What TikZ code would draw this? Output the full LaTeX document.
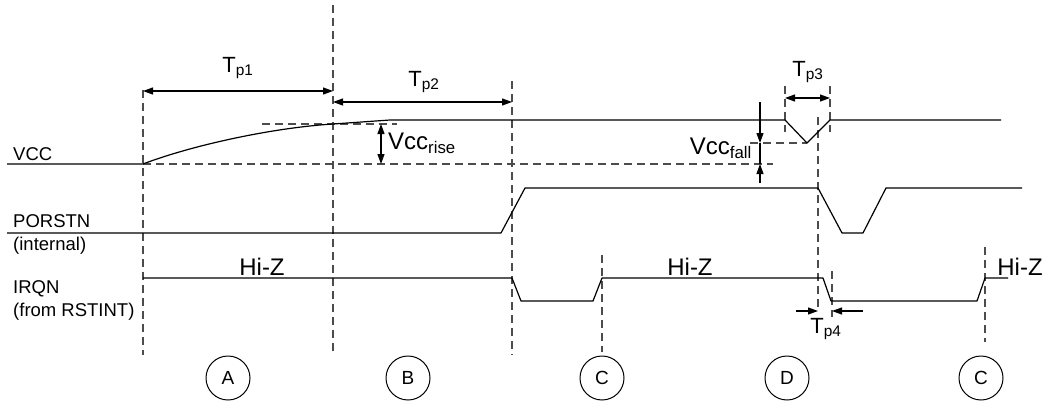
\documentclass[tikz,border=0pt]{standalone}
\usepackage{fontspec}
\setmainfont{Liberation Sans}
\usetikzlibrary{calc}
\usetikzlibrary{arrows.meta}
\usetikzlibrary{positioning}
\tikzset{sig/.style={black, line width=1.2pt, line join=round}}

\begin{document}
\begin{tikzpicture}[x=1pt,y=-1pt]
\tikzset{guide/.style={black!70, line width=1.1pt, dash pattern=on 8pt off 5pt}}
\tikzset{dim/.style={line width=1.1pt, {Triangle[length=10pt,width=7pt]}-{Triangle[length=10pt,width=7pt]}}}
\tikzset{tip/.style={line width=1.1pt, -{Triangle[length=10pt,width=7pt]}}}
\tikzset{lbl/.style={font=\fontsize{18.5}{20}\selectfont, inner sep=0pt, anchor=west}}
\tikzset{big/.style={font=\fontsize{22}{24}\selectfont, inner sep=0pt}}
\tikzset{hiz/.style={font=\fontsize{24}{26}\selectfont, inner sep=0pt}}
\tikzset{phase/.style={circle, draw, line width=1pt, minimum size=44pt, inner sep=0pt, font=\fontsize{19}{21}\selectfont}}

\useasboundingbox (0,0) rectangle (1046,404);

\pgfmathsetmacro{\tA}{143}
\pgfmathsetmacro{\tB}{333}
\pgfmathsetmacro{\tC}{512}
\pgfmathsetmacro{\tD}{602}
\pgfmathsetmacro{\tE}{818}
\pgfmathsetmacro{\tF}{985}

% guide lines
\draw[guide] (\tA,90) -- (\tA,355);
\draw[guide] (\tB,5) -- (\tB,355);
\draw[guide] (\tC,81) -- (\tC,355);
\draw[guide] (\tD,255) -- (\tD,352);
\draw[guide] (\tE,117) -- (\tE,310);
\draw[guide] (832,271) -- (832,317);
\draw[guide] (\tF,247) -- (\tF,342);
\draw[guide] (785,86) -- (785,132);
\draw[guide] (830,86) -- (830,132);
\draw[guide] (262,124) -- (397,124);
\draw[guide] (\tA,164) -- (773,164);
\draw[guide] (750,143) -- (807,143);

% signals
\draw[sig] (7,164) -- (\tA,164) .. controls (190,146) and (270,128) .. (\tB,124) -- (390,120)
  -- (785,120) -- (807,143) -- (830,120) -- (1001,120);
\draw[sig] (7,233) -- (501,233) -- (525,188) -- (\tE,188) -- (842,233) -- (863,233)
  -- (886,188) -- (1022,188);
\draw[sig] (\tA,278) -- (\tC,278) -- (521,301) -- (593,301) -- (\tD,278) -- (823,278)
  -- (831,301) -- (977,301) -- (\tF,278) -- (1008,278);

\node[lbl] (vcc) at (13,154) {VCC};
\node[lbl] (porstn) at (13,221) {PORSTN};
\node[lbl] (internal) at (13,246) {(internal)};
\node[lbl] (irqn) at (13,289) {IRQN};
\node[lbl] (rstint) at (13,312) {(from RSTINT)};

% timing arrows
\coordinate (p1a) at (\tA,91);
\coordinate (p1b) at (\tB,91);
\draw[dim] (p1a) -- (p1b);
\node[big] (tp1) at (238,68) {T\textsubscript{p1}};

\coordinate (p2a) at (\tB,102);
\coordinate (p2b) at (\tC,102);
\draw[dim] (p2a) -- (p2b);
\node[big] (tp2) at (424,82) {T\textsubscript{p2}};

\coordinate (p3a) at (785,98);
\coordinate (p3b) at (830,98);
\draw[dim] (p3a) -- (p3b);
\node[big] (tp3) at (808,72) {T\textsubscript{p3}};

\coordinate (p4a) at (796,311);
\coordinate (p4b) at (\tE,311);
\coordinate (p4c) at (863,311);
\coordinate (p4d) at (832,311);
\draw[tip] (p4a) -- (p4b);
\draw[tip] (p4c) -- (p4d);
\node[big] (tp4) at (826,329) {T\textsubscript{p4}};

% voltage arrows
\coordinate (ra) at (381,124);
\coordinate (rb) at (381,164);
\draw[dim] (ra) -- (rb);
\node[hiz, anchor=west] (vrise) at (388,143) {Vcc\textsubscript{rise}};

\coordinate (fa) at (760,102);
\coordinate (fb) at (760,143);
\coordinate (fc) at (760,164);
\coordinate (fd) at (760,183);
\draw[tip] (fa) -- (fb);
\draw[line width=1.1pt] (fb) -- (fc);
\draw[tip] (fd) -- (fc);
\node[hiz, anchor=east] (vfall) at (752,148) {Vcc\textsubscript{fall}};

\node[hiz] (hiz1) at (262,267) {Hi-Z};
\node[hiz] (hiz2) at (690,267) {Hi-Z};
\node[hiz] (hiz3) at (1020,267) {Hi-Z};

% phases
\node[phase] (phA) at (228,378) {A};
\node[phase] (phB) at (408,378) {B};
\node[phase] (phC) at (602,378) {C};
\node[phase] (phD) at (787,378) {D};
\node[phase] (phE) at (981,378) {C};
\end{tikzpicture}
\end{document}
